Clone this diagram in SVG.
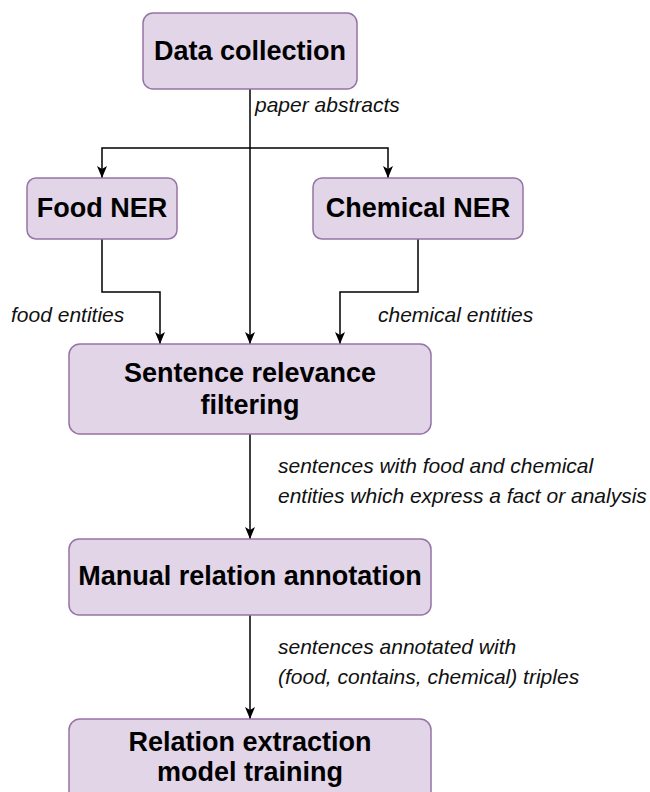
<svg xmlns="http://www.w3.org/2000/svg" width="650" height="792" viewBox="0 0 650 792">
<style>
.box{fill:#e1d5e7;stroke:#9673a6;stroke-width:1.5}
.t{font-family:"Liberation Sans",Arial,sans-serif;font-weight:bold;font-size:27px;fill:#000;text-anchor:middle}
.l{font-family:"Liberation Sans",Arial,sans-serif;font-style:italic;font-size:21px;fill:#111}
.c{fill:none;stroke:#000;stroke-width:1.5}
</style>
<defs>
<marker id="arr" markerUnits="userSpaceOnUse" markerWidth="12" markerHeight="12" viewBox="0 0 12 12" refX="12" refY="6" orient="auto">
<path d="M0,1 L12,6 L0,11 L3,6 Z" fill="#000"/>
</marker>
</defs>
<rect width="650" height="792" fill="#fff"/>
<g id="connectors">
<path class="c" d="M250,89 V344" marker-end="url(#arr)"/>
<path class="c" d="M250,148 H102 V178" marker-end="url(#arr)"/>
<path class="c" d="M250,148 H388 V178" marker-end="url(#arr)"/>
<path class="c" d="M102,239 V292 H160 V344" marker-end="url(#arr)"/>
<path class="c" d="M418,239 V292 H340 V344" marker-end="url(#arr)"/>
<path class="c" d="M250,434 V539" marker-end="url(#arr)"/>
<path class="c" d="M250,615 V719" marker-end="url(#arr)"/>
<text class="l" x="255" y="112">paper abstracts</text>
<text class="l" x="11" y="322">food entities</text>
<text class="l" x="378" y="322">chemical entities</text>
<text class="l" x="278" y="473">sentences with food and chemical</text>
<text class="l" x="278" y="503">entities which express a fact or analysis</text>
<text class="l" x="278" y="654">sentences annotated with</text>
<text class="l" x="278" y="684">(food, contains, chemical) triples</text>
</g>
<g id="data-collection">
<rect class="box" x="143" y="13" width="214" height="76" rx="10"/>
<text class="t" x="250" y="60">Data collection</text>
</g>
<g id="food-ner">
<rect class="box" x="27" y="178" width="150" height="61" rx="9"/>
<text class="t" x="102" y="217">Food NER</text>
</g>
<g id="chemical-ner">
<rect class="box" x="313" y="178" width="210" height="61" rx="9"/>
<text class="t" x="418" y="217">Chemical NER</text>
</g>
<g id="sentence-filtering">
<rect class="box" x="69" y="344" width="362" height="90" rx="11"/>
<text class="t" x="250" y="382">Sentence relevance</text>
<text class="t" x="250" y="414">filtering</text>
</g>
<g id="manual-annotation">
<rect class="box" x="69" y="539" width="362" height="76" rx="10"/>
<text class="t" x="250" y="585">Manual relation annotation</text>
</g>
<g id="relation-extraction">
<rect class="box" x="69" y="719" width="362" height="90" rx="11"/>
<text class="t" x="250" y="751">Relation extraction</text>
<text class="t" x="250" y="781">model training</text>
</g>
</svg>
